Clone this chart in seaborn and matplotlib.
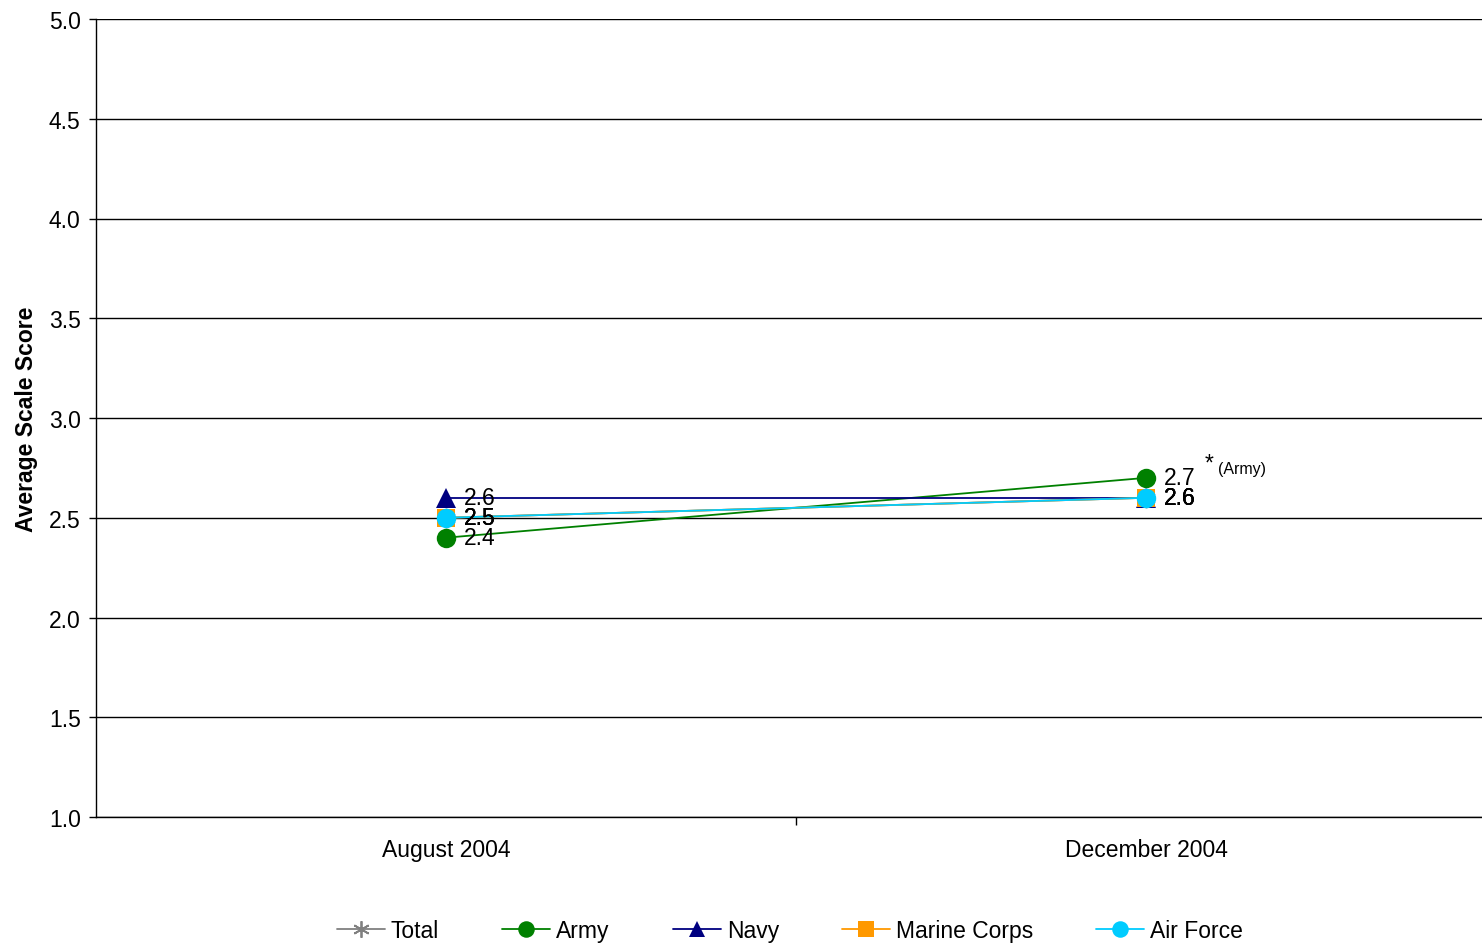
import matplotlib
matplotlib.use("Agg")
import matplotlib.pyplot as plt
import seaborn as sns
import pandas as pd

periods = ["August 2004", "December 2004"]
series_names = ["Total", "Army", "Navy", "Marine Corps", "Air Force"]
total = [2.5, 2.6]
army = [2.4, 2.7]
navy = [2.6, 2.6]
marine = [2.5, 2.6]
air_force = [2.5, 2.6]
y_ticks = [1.0, 1.5, 2.0, 2.5, 3.0, 3.5, 4.0, 4.5, 5.0]

values = [total, army, navy, marine, air_force]
colors = ["#808080", "#008000", "#000080", "#FF9900", "#00CCFF"]
markers = [(6, 2, 0), "o", "^", "s", "o"]
msizes = [14, 14, 14, 13, 14]

FS = 16.5

sns.set_theme(style="white")
plt.rcParams["font.family"] = ["Liberation Sans", "DejaVu Sans"]
plt.rcParams["text.color"] = "black"
plt.rcParams["axes.labelcolor"] = "black"
plt.rcParams["xtick.color"] = "black"
plt.rcParams["ytick.color"] = "black"
plt.rcParams["xtick.labelcolor"] = "black"
plt.rcParams["ytick.labelcolor"] = "black"

fig = plt.figure(figsize=(14.82, 9.45), dpi=100)
ax = fig.add_axes([96 / 1482, (945 - 818) / 945, (1482 - 96) / 1482, (818 - 20) / 945])

for name, vals, c, m, ms in zip(series_names, values, colors, markers, msizes):
    df = pd.DataFrame({"period": periods, "score": vals})
    sns.lineplot(data=df, x="period", y="score", ax=ax, color=c, marker=m,
                 markersize=ms, markeredgecolor=c, markeredgewidth=1.3 if m == (6, 2, 0) else 0,
                 linewidth=1.3, label=name, sort=False)
    for i, v in enumerate(vals):
        ax.annotate(f"{v:.1f}", (i, v), xytext=(13, 0), textcoords="offset points",
                    ha="left", va="center", fontsize=FS, color="black")

ax.annotate("*", (1, 2.7), xytext=(42, 11), textcoords="offset points",
            ha="left", va="center", fontsize=FS, color="black")
ax.annotate("(Army)", (1, 2.7), xytext=(52, 7), textcoords="offset points",
            ha="left", va="center", fontsize=11.5, color="black")

ax.set_xlim(-0.5, -0.5 + (1482 - 96) / 700)
ax.set_ylim(1.0, 5.0)
ax.set_yticks(y_ticks)
ax.set_yticklabels([f"{t:.1f}" for t in y_ticks], fontsize=FS)
ax.set_xticks([0, 1])
ax.set_xticklabels(periods, fontsize=FS)
ax.set_xticks([0.5], minor=True)
ax.tick_params(axis="x", which="major", length=0, pad=15)
ax.tick_params(axis="x", which="minor", length=6, width=1, color="black", direction="out", bottom=True)
ax.tick_params(axis="y", which="major", length=5, width=1, color="black", direction="out", left=True, pad=6)
ax.yaxis.grid(True, color="black", linewidth=1)
ax.xaxis.grid(False)
ax.set_axisbelow(True)
ax.set_xlabel("")
ax.set_ylabel("Average Scale Score", fontsize=FS, fontweight="bold", labelpad=8)

for s in ["left", "bottom"]:
    ax.spines[s].set_color("black")
    ax.spines[s].set_linewidth(1)
ax.spines["top"].set_visible(False)
ax.spines["right"].set_visible(False)

if ax.legend_:
    ax.legend_.remove()
handles, labels = ax.get_legend_handles_labels()
fig.legend(handles[:5], labels[:5], loc="center", bbox_to_anchor=(0.533, 1 - 932 / 945),
           ncol=5, frameon=False, fontsize=FS, columnspacing=2.75, handlelength=2.1,
           handletextpad=0.26, markerscale=0.85)

fig.savefig("out.png", dpi=100)
